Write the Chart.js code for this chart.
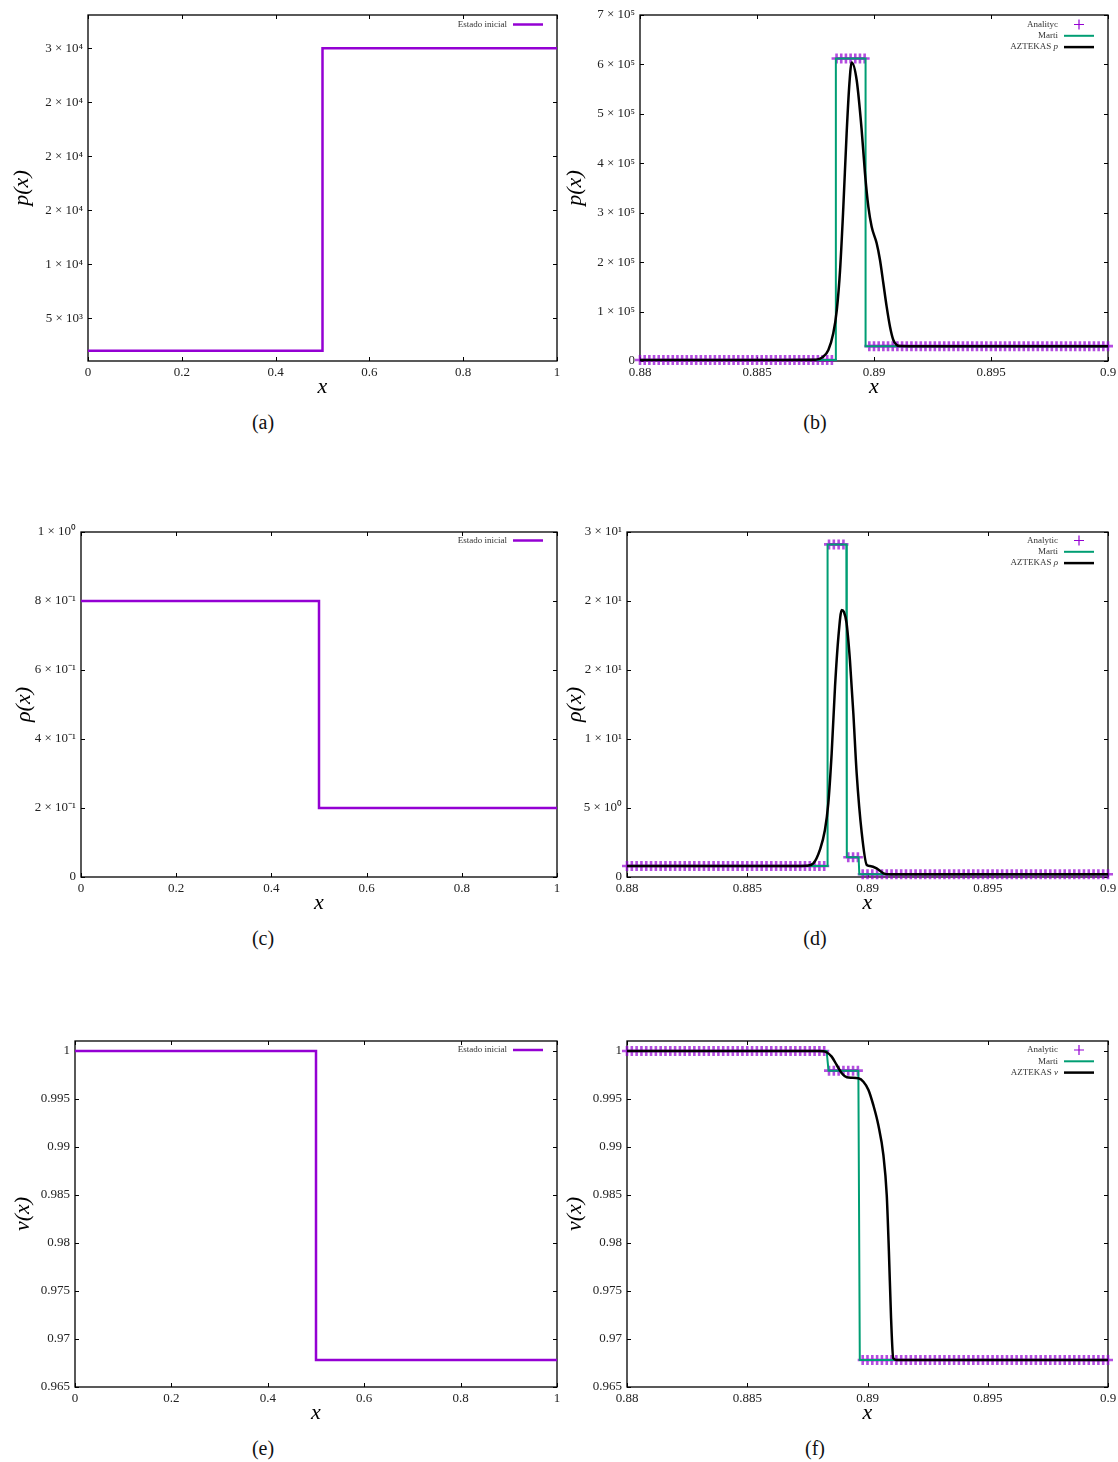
<!DOCTYPE html>
<html>
<head>
<meta charset="utf-8">
<script src="https://cdn.jsdelivr.net/npm/chart.js@4.4.0/dist/chart.umd.min.js"></script>
<style>
html,body{margin:0;padding:0;background:#fff;}
#wrap{position:relative;width:1118px;height:1462px;overflow:hidden;background:#fff;}
canvas{position:absolute;}
.cap{position:absolute;font-family:'Liberation Serif','Times New Roman',serif;font-size:20px;color:#111;transform:translate(-50%,-50%);white-space:nowrap;}
</style>
</head>
<body>
<div id="wrap">
  <canvas id="cA" width="570" height="400" style="left:0px;top:0px"></canvas>
  <canvas id="cB" width="580" height="400" style="left:555px;top:0px"></canvas>
  <canvas id="cC" width="570" height="416" style="left:0px;top:500px"></canvas>
  <canvas id="cD" width="580" height="416" style="left:555px;top:500px"></canvas>
  <canvas id="cE" width="570" height="416" style="left:0px;top:1010px"></canvas>
  <canvas id="cF" width="580" height="416" style="left:555px;top:1010px"></canvas>
  <div class="cap" style="left:263px;top:422px">(a)</div>
  <div class="cap" style="left:815px;top:422px">(b)</div>
  <div class="cap" style="left:263px;top:938px">(c)</div>
  <div class="cap" style="left:815px;top:938px">(d)</div>
  <div class="cap" style="left:263px;top:1448px">(e)</div>
  <div class="cap" style="left:815px;top:1448px">(f)</div>
</div>
<script>
// ---------------- DATA ----------------
// Initial state (panels a, c, e)
const initX   = [0, 0.5, 0.5, 1];
const initP   = [2000, 2000, 30000, 30000];
const initRho = [0.8, 0.8, 0.2, 0.2];
const initV   = [1, 1, 0.9678, 0.9678];

// Analytic solution samples (panels b, d, f)
const analyticX = [
  0.8800,0.8802,0.8804,0.8806,0.8808,0.8810,0.8812,0.8814,0.8816,0.8818,
  0.8820,0.8822,0.8824,0.8826,0.8828,0.8830,0.8832,0.8834,0.8836,0.8838,
  0.8840,0.8842,0.8844,0.8846,0.8848,0.8850,0.8852,0.8854,0.8856,0.8858,
  0.8860,0.8862,0.8864,0.8866,0.8868,0.8870,0.8872,0.8874,0.8876,0.8878,
  0.8880,0.8882,0.8884,0.8886,0.8888,0.8890,0.8892,0.8894,0.8896,0.8898,
  0.8900,0.8902,0.8904,0.8906,0.8908,0.8910,0.8912,0.8914,0.8916,0.8918,
  0.8920,0.8922,0.8924,0.8926,0.8928,0.8930,0.8932,0.8934,0.8936,0.8938,
  0.8940,0.8942,0.8944,0.8946,0.8948,0.8950,0.8952,0.8954,0.8956,0.8958,
  0.8960,0.8962,0.8964,0.8966,0.8968,0.8970,0.8972,0.8974,0.8976,0.8978,
  0.8980,0.8982,0.8984,0.8986,0.8988,0.8990,0.8992,0.8994,0.8996,0.8998,
  0.9000];
const analyticP = [
  2000,2000,2000,2000,2000,2000,2000,2000,2000,2000,
  2000,2000,2000,2000,2000,2000,2000,2000,2000,2000,
  2000,2000,2000,2000,2000,2000,2000,2000,2000,2000,
  2000,2000,2000,2000,2000,2000,2000,2000,2000,2000,
  2000,2000,612000,612000,612000,612000,612000,612000,612000,30000,
  30000,30000,30000,30000,30000,30000,30000,30000,30000,30000,
  30000,30000,30000,30000,30000,30000,30000,30000,30000,30000,
  30000,30000,30000,30000,30000,30000,30000,30000,30000,30000,
  30000,30000,30000,30000,30000,30000,30000,30000,30000,30000,
  30000,30000,30000,30000,30000,30000,30000,30000,30000,30000,
  30000];
const analyticRho = [
  0.8,0.8,0.8,0.8,0.8,0.8,0.8,0.8,0.8,0.8,
  0.8,0.8,0.8,0.8,0.8,0.8,0.8,0.8,0.8,0.8,
  0.8,0.8,0.8,0.8,0.8,0.8,0.8,0.8,0.8,0.8,
  0.8,0.8,0.8,0.8,0.8,0.8,0.8,0.8,0.8,0.8,
  0.8,0.8,24.1,24.1,24.1,24.1,1.43,1.43,1.43,0.2,
  0.2,0.2,0.2,0.2,0.2,0.2,0.2,0.2,0.2,0.2,
  0.2,0.2,0.2,0.2,0.2,0.2,0.2,0.2,0.2,0.2,
  0.2,0.2,0.2,0.2,0.2,0.2,0.2,0.2,0.2,0.2,
  0.2,0.2,0.2,0.2,0.2,0.2,0.2,0.2,0.2,0.2,
  0.2,0.2,0.2,0.2,0.2,0.2,0.2,0.2,0.2,0.2,
  0.2];
const analyticV = [
  1,1,1,1,1,1,1,1,1,1,
  1,1,1,1,1,1,1,1,1,1,
  1,1,1,1,1,1,1,1,1,1,
  1,1,1,1,1,1,1,1,1,1,
  1,1,0.99795,0.99795,0.99795,0.99795,0.99795,0.99795,0.99795,0.96781,
  0.96781,0.96781,0.96781,0.96781,0.96781,0.96781,0.96781,0.96781,0.96781,0.96781,
  0.96781,0.96781,0.96781,0.96781,0.96781,0.96781,0.96781,0.96781,0.96781,0.96781,
  0.96781,0.96781,0.96781,0.96781,0.96781,0.96781,0.96781,0.96781,0.96781,0.96781,
  0.96781,0.96781,0.96781,0.96781,0.96781,0.96781,0.96781,0.96781,0.96781,0.96781,
  0.96781,0.96781,0.96781,0.96781,0.96781,0.96781,0.96781,0.96781,0.96781,0.96781,
  0.96781];

// Marti solution (step lines)
const martiXP   = [0.88, 0.88837, 0.88837, 0.88964, 0.88964, 0.9];
const martiP    = [2000, 2000, 612000, 612000, 30000, 30000];
const martiXRho = [0.88, 0.88832, 0.88834, 0.88912, 0.88914, 0.88963, 0.88966, 0.9];
const martiRho  = [0.8, 0.8, 24.1, 24.1, 1.43, 1.43, 0.2, 0.2];
const martiXV   = [0.88, 0.88830, 0.88838, 0.88962, 0.88968, 0.9];
const martiV    = [1, 1, 0.99795, 0.99795, 0.96781, 0.96781];

// AZTEKAS numerical solution
const aztXP = [0.8800, 0.8860, 0.88741, 0.88783, 0.88805, 0.88826, 0.88841, 0.88855, 0.88869, 0.88883,
               0.88895, 0.889046, 0.889259, 0.889473, 0.889615, 0.889758, 0.889900, 0.890114, 0.890256,
               0.890399, 0.890541, 0.890684, 0.890826, 0.890969, 0.89111, 0.8915, 0.9000];
const aztP  = [2000, 2000, 2300, 8700, 22300, 56000, 103000, 184000, 312000, 460000,
               562000, 604000, 568500, 467300, 379700, 312200, 271700, 238100, 204300,
               157200, 109900, 69400, 42500, 32400, 30300, 30000, 30000];
const aztXRho = [0.8800, 0.8870, 0.88747, 0.88775, 0.88802, 0.88823, 0.88837, 0.88851, 0.88865, 0.88879,
                 0.88893, 0.88902, 0.88913, 0.88927, 0.88941, 0.88955, 0.88976, 0.88997, 0.8901,
                 0.89038, 0.89066, 0.89094, 0.9000];
const aztRho  = [0.8, 0.8, 0.82, 0.99, 1.96, 3.4, 5.34, 8.96, 13.8, 17.4,
                 19.35, 19.2, 18.4, 15.7, 11.9, 7.5, 3.2, 0.87, 0.8,
                 0.63, 0.27, 0.2, 0.2];
const aztXV = [0.8800, 0.8880, 0.88816, 0.8883, 0.88851, 0.88872, 0.88893, 0.88914, 0.88934, 0.88962,
               0.88983, 0.89004, 0.89024, 0.89045, 0.89066, 0.8908, 0.89089, 0.89098, 0.89107, 0.8912, 0.9000];
const aztV  = [1, 1, 0.99998, 0.99987, 0.99941, 0.99854, 0.99768, 0.99726, 0.99722, 0.99716,
               0.9968, 0.99594, 0.99438, 0.99229, 0.98917, 0.985, 0.9791, 0.97216, 0.968, 0.96781, 0.96781];

// Tick values and labels
const fullTicksX = [0, 0.2, 0.4, 0.6, 0.8, 1];
const fullTickLabelsX = ['0', '0.2', '0.4', '0.6', '0.8', '1'];
const zoomTicksX = [0.88, 0.885, 0.89, 0.895, 0.9];
const zoomTickLabelsX = ['0.88', '0.885', '0.89', '0.895', '0.9'];
const pTicksA = [5000, 10000, 15000, 20000, 25000, 30000];
const pTickLabelsA = ['5 × 10³', '1 × 10⁴', '2 × 10⁴', '2 × 10⁴', '2 × 10⁴', '3 × 10⁴'];
const pTicksB = [0, 100000, 200000, 300000, 400000, 500000, 600000, 700000];
const pTickLabelsB = ['0', '1 × 10⁵', '2 × 10⁵', '3 × 10⁵', '4 × 10⁵', '5 × 10⁵', '6 × 10⁵', '7 × 10⁵'];
const rhoTicksC = [0, 0.2, 0.4, 0.6, 0.8, 1];
const rhoTickLabelsC = ['0', '2 × 10⁻¹', '4 × 10⁻¹', '6 × 10⁻¹', '8 × 10⁻¹', '1 × 10⁰'];
const rhoTicksD = [0, 5, 10, 15, 20, 25];
const rhoTickLabelsD = ['0', '5 × 10⁰', '1 × 10¹', '2 × 10¹', '2 × 10¹', '3 × 10¹'];
const vTicks = [0.965, 0.97, 0.975, 0.98, 0.985, 0.99, 0.995, 1];
const vTickLabels = ['0.965', '0.97', '0.975', '0.98', '0.985', '0.99', '0.995', '1'];

// ---------------- RENDERING ----------------
const SERIF = "'Liberation Serif','Times New Roman',serif";
const PURPLE = '#9400d3', GREEN = '#009e73';

function xy(xs, ys) { return xs.map((x, i) => ({x: x, y: ys[i]})); }

const gnuFrame = {
  id: 'gnuFrame',
  beforeDatasetsDraw(chart) {
    const {ctx, chartArea: a, scales} = chart;
    const x = scales.x, y = scales.y;
    ctx.save();
    ctx.strokeStyle = '#000';
    ctx.lineWidth = 1;
    ctx.beginPath();
    const L = 4;
    x.ticks.forEach(t => {
      const px = Math.round(x.getPixelForValue(t.value)) + 0.5;
      ctx.moveTo(px, a.bottom); ctx.lineTo(px, a.bottom - L);
      ctx.moveTo(px, a.top); ctx.lineTo(px, a.top + L);
    });
    y.ticks.forEach(t => {
      const py = Math.round(y.getPixelForValue(t.value)) + 0.5;
      ctx.moveTo(a.left, py); ctx.lineTo(a.left + L, py);
      ctx.moveTo(a.right, py); ctx.lineTo(a.right - L, py);
    });
    ctx.stroke();
    ctx.lineWidth = 1.3;
    ctx.strokeRect(a.left, a.top, a.right - a.left, a.bottom - a.top);
    ctx.restore();
  }
};

const gnuKey = {
  id: 'gnuKey',
  afterDatasetsDraw(chart, args, opts) {
    const {ctx, chartArea: a} = chart;
    ctx.save();
    chart.data.datasets.forEach((d, i) => {
      const yy = a.top + opts.top + i * opts.step;
      const tx = a.right - 50;
      ctx.textBaseline = 'middle';
      ctx.textAlign = 'right';
      ctx.fillStyle = '#333';
      const m = d.label.match(/^(.*\s)([pρv])$/);
      if (m) {
        ctx.font = 'italic 9px ' + SERIF;
        const w = ctx.measureText(m[2]).width;
        ctx.fillText(m[2], tx, yy);
        ctx.font = '9px ' + SERIF;
        ctx.fillText(m[1], tx - w, yy);
      } else {
        ctx.font = '9px ' + SERIF;
        ctx.fillText(d.label, tx, yy);
      }
      if (d.showLine) {
        ctx.strokeStyle = d.borderColor;
        ctx.lineWidth = d.borderWidth;
        ctx.beginPath();
        ctx.moveTo(a.right - 44, yy); ctx.lineTo(a.right - 14, yy);
        ctx.stroke();
      } else {
        ctx.strokeStyle = PURPLE;
        ctx.lineWidth = 1.2;
        const cx = a.right - 29, r = 5;
        ctx.beginPath();
        ctx.moveTo(cx - r, yy); ctx.lineTo(cx + r, yy);
        ctx.moveTo(cx, yy - r); ctx.lineTo(cx, yy + r);
        ctx.stroke();
      }
    });
    ctx.restore();
  }
};

function initDataset(xs, ys) {
  return {label: 'Estado inicial', data: xy(xs, ys), showLine: true, pointRadius: 0,
          borderColor: PURPLE, borderWidth: 2.5, tension: 0};
}
function analyticDataset(label, ys) {
  const c = 'rgba(148,0,211,0.7)';
  return {label: label, data: xy(analyticX, ys), showLine: false, pointStyle: 'cross',
          pointRadius: 5, pointBorderWidth: 2.6, borderColor: c,
          pointBorderColor: c, backgroundColor: c,
          clip: false, order: 3};
}
function martiDataset(xs, ys) {
  return {label: 'Marti', data: xy(xs, ys), showLine: true, pointRadius: 0,
          borderColor: GREEN, borderWidth: 2, tension: 0, order: 2};
}
function aztDataset(label, xs, ys) {
  return {label: label, data: xy(xs, ys), showLine: true, pointRadius: 0,
          borderColor: '#000', borderWidth: 2.5, cubicInterpolationMode: 'monotone', order: 1};
}

function panel(id, s) {
  return new Chart(document.getElementById(id), {
    type: 'scatter',
    data: {datasets: s.datasets},
    options: {
      responsive: false, animation: false, devicePixelRatio: 1, events: [],
      layout: {padding: {left: 0, top: s.padTop, right: s.padRight, bottom: 0}},
      plugins: {legend: {display: false}, tooltip: {enabled: false},
                gnuKey: {top: s.keyTop, step: 11.3}},
      scales: {
        x: {
          type: 'linear', min: s.xMin, max: s.xMax,
          afterFit: sc => { sc.height = 39; },
          afterBuildTicks: sc => { sc.ticks = s.xTicks.map(v => ({value: v})); },
          ticks: {callback: (v, i) => s.xLabels[i], autoSkip: false, maxRotation: 0,
                  padding: 4, color: '#222', font: {family: SERIF, size: 13}},
          grid: {display: false, drawTicks: false}, border: {display: false},
          title: {display: true, text: 'x', color: '#000',
                  font: {family: SERIF, size: 22, style: 'italic'}, padding: {top: 0, bottom: 0}}
        },
        y: {
          type: 'linear', min: s.yMin, max: s.yMax,
          afterFit: sc => { sc.width = s.yWidth; },
          afterBuildTicks: sc => { sc.ticks = s.yTicks.map(v => ({value: v})); },
          ticks: {callback: (v, i) => s.yLabels[i], autoSkip: false,
                  padding: 5, color: '#222', font: {family: SERIF, size: 13}},
          grid: {display: false, drawTicks: false}, border: {display: false},
          title: {display: true, text: s.yTitle, color: '#000',
                  font: {family: SERIF, size: 22, style: 'italic'}, padding: {top: s.yTitlePad, bottom: 0}}
        }
      }
    },
    plugins: [gnuFrame, gnuKey]
  });
}

// left canvases: width 570, chart right at 557 -> padRight 13
// right canvases: width 580 (start 555), chart right at 1108 -> padRight 27
panel('cA', {
  datasets: [initDataset(initX, initP)],
  padTop: 15, padRight: 13, yWidth: 88, yTitlePad: 9, keyTop: 9.5,
  xMin: 0, xMax: 1, xTicks: fullTicksX, xLabels: fullTickLabelsX,
  yMin: 1046, yMax: 33083, yTicks: pTicksA, yLabels: pTickLabelsA, yTitle: 'p(x)'
});
panel('cB', {
  datasets: [analyticDataset('Analityc', analyticP), martiDataset(martiXP, martiP), aztDataset('AZTEKAS p', aztXP, aztP)],
  padTop: 15, padRight: 27, yWidth: 85, yTitlePad: 7, keyTop: 9.5,
  xMin: 0.88, xMax: 0.9, xTicks: zoomTicksX, xLabels: zoomTickLabelsX,
  yMin: 0, yMax: 700000, yTicks: pTicksB, yLabels: pTickLabelsB, yTitle: 'p(x)'
});
panel('cC', {
  datasets: [initDataset(initX, initRho)],
  padTop: 32, padRight: 13, yWidth: 81, yTitlePad: 11, keyTop: 8.5,
  xMin: 0, xMax: 1, xTicks: fullTicksX, xLabels: fullTickLabelsX,
  yMin: 0, yMax: 1, yTicks: rhoTicksC, yLabels: rhoTickLabelsC, yTitle: 'ρ(x)'
});
panel('cD', {
  datasets: [analyticDataset('Analytic', analyticRho), martiDataset(martiXRho, martiRho), aztDataset('AZTEKAS ρ', aztXRho, aztRho)],
  padTop: 32, padRight: 27, yWidth: 72, yTitlePad: 7, keyTop: 8.5,
  xMin: 0.88, xMax: 0.9, xTicks: zoomTicksX, xLabels: zoomTickLabelsX,
  yMin: 0, yMax: 25, yTicks: rhoTicksD, yLabels: rhoTickLabelsD, yTitle: 'ρ(x)'
});
panel('cE', {
  datasets: [initDataset(initX, initV)],
  padTop: 31, padRight: 13, yWidth: 75, yTitlePad: 10, keyTop: 9,
  xMin: 0, xMax: 1, xTicks: fullTicksX, xLabels: fullTickLabelsX,
  yMin: 0.965, yMax: 1.00104, yTicks: vTicks, yLabels: vTickLabels, yTitle: 'v(x)'
});
panel('cF', {
  datasets: [analyticDataset('Analytic', analyticV), martiDataset(martiXV, martiV), aztDataset('AZTEKAS v', aztXV, aztV)],
  padTop: 31, padRight: 27, yWidth: 72, yTitlePad: 7, keyTop: 9,
  xMin: 0.88, xMax: 0.9, xTicks: zoomTicksX, xLabels: zoomTickLabelsX,
  yMin: 0.965, yMax: 1.00104, yTicks: vTicks, yLabels: vTickLabels, yTitle: 'v(x)'
});
</script>
</body>
</html>
